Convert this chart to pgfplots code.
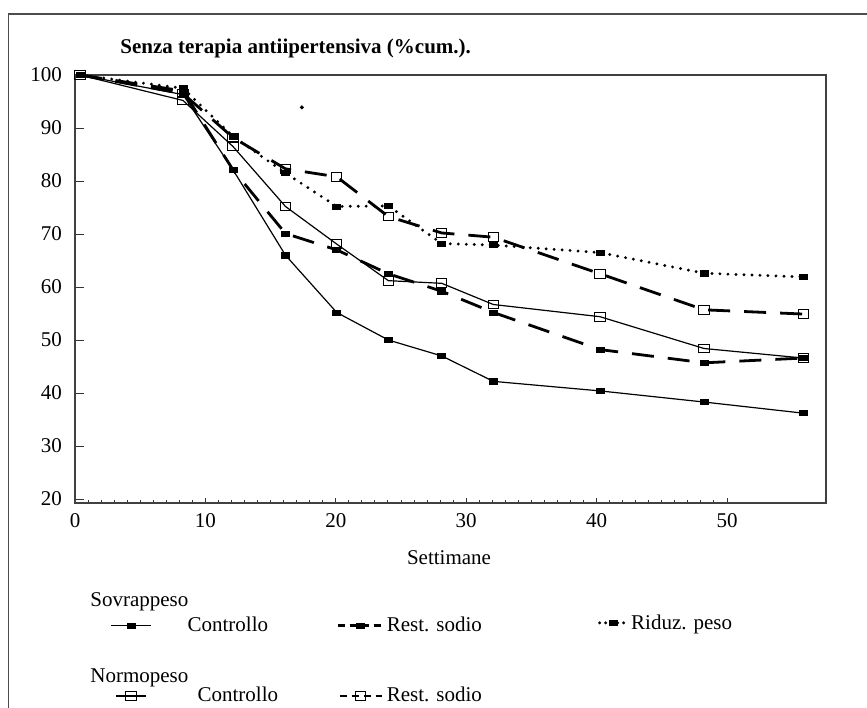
\documentclass[border=0pt]{standalone}
\usepackage{pgfplots}
\pgfplotsset{compat=1.18}
\usepackage{pgfplotstable}
\usepackage{fontspec}
\setmainfont{Liberation Serif}

% Legend samples of different lengths and dash rhythms
\pgfplotsset{
  leg solid/.style={legend image code/.code={\draw[##1, mark repeat=2, mark phase=2] plot coordinates {(0pt,0pt) (10pt,0pt) (20pt,0pt)};}},
  leg solid short/.style={legend image code/.code={\draw[##1, mark repeat=2, mark phase=2] plot coordinates {(2.5pt,0pt) (10pt,0pt) (17.5pt,0pt)};}},
  leg dash/.style={legend image code/.code={\draw[##1, dash pattern=on 3.5pt off 2.5pt, mark repeat=2, mark phase=2] plot coordinates {(0pt,0pt) (11.5pt,0pt) (23pt,0pt)};}},
  leg dash short/.style={legend image code/.code={\draw[##1, dash pattern=on 3.5pt off 2.5pt, mark repeat=2, mark phase=2] plot coordinates {(1pt,0pt) (11.5pt,0pt) (22pt,0pt)};}},
  leg dot/.style={legend image code/.code={\draw[##1, dash pattern=on 0pt off 3pt, mark repeat=2, mark phase=2] plot coordinates {(0pt,1.5pt) (7pt,1.5pt) (14pt,1.5pt)};}},
}

% Share of patients still without antihypertensive therapy (cumulative %)
\pgfplotstableread{
x y
0.38 100
8.28 96.3
12.12 82.1
16.14 66.0
20.07 55.2
24.03 50.0
28.12 47.0
32.08 42.2
40.26 40.4
48.24 38.3
55.85 36.2
}\sovCtrl
\pgfplotstableread{
x y
0.38 100
8.28 97.0
12.12 82.1
16.14 70.1
20.07 67.0
24.03 62.5
28.12 59.2
32.08 55.2
40.26 48.2
48.24 45.7
55.85 46.6
}\sovRest
\pgfplotstableread{
x y
0.38 100
8.28 97.5
12.12 88.4
16.14 81.5
20.07 75.2
24.03 75.3
28.12 68.2
32.08 67.9
40.26 66.5
48.24 62.6
55.85 61.9
}\sovRid
\pgfplotstableread{
x y
0.38 100
8.28 95.2
12.12 86.5
16.14 75.2
20.07 68.1
24.03 61.2
28.12 60.7
32.08 56.7
40.26 54.4
48.24 48.4
55.85 46.6
}\norCtrl
\pgfplotstableread{
x y
0.38 100
8.28 96.5
12.12 88.2
16.14 82.3
20.07 80.8
24.03 73.3
28.12 70.2
32.08 69.4
40.26 62.5
48.24 55.7
55.85 54.9
}\norRest

\begin{document}
\begin{tikzpicture}[font=\fontsize{10.5}{12.6}\selectfont,
  filled/.style={mark=square*, mark size=2pt, mark options={solid, line width=0.3pt, yscale=0.65}},
  open/.style={mark=square, mark size=2.6pt, mark options={solid, line width=0.5pt, yscale=0.85}},
  ctrl/.style={black, line width=0.6pt},
  rest/.style={black, line width=1.4pt, dash pattern=on 11pt off 7pt},
  rid/.style={black, line width=1.6pt, line cap=round, dash pattern=on 0pt off 4pt},
]
% outer frame
\draw[black!70, line width=0.8pt] (4.25pt,-360pt) -- (4.25pt,-7pt) -- (440pt,-7pt);

\begin{axis}[
  at={(37.5pt,-251.5pt)}, anchor=south west,
  scale only axis, width=375.5pt, height=214pt,
  xmin=0, xmax=57.59, ymin=19.25, ymax=100,
  xtick={0,10,...,50}, ytick={20,30,...,100},
  minor x tick num=9,
  tick pos=left, tick align=inside,
  major tick length=4.5pt, minor tick length=1.6pt,
  xtick style={/pgfplots/major tick length=2.4pt},
  axis line style={black!75, line width=0.7pt},
  every tick/.style={black!80, line width=0.5pt},
  /pgf/number format/assume math mode=true,
  tick label style={font=\fontsize{10.5}{12.6}\selectfont},
  yticklabel style={xshift=-3pt},
  xticklabel style={yshift=-1.5pt},
  xlabel={Settimane},
  xlabel style={at={(axis description cs:0.498,-0.128)}, anchor=center},
  clip=false,
  legend columns=3,
  legend cell align=left,
  legend style={draw=none, fill=none, inner sep=0pt,
    at={(axis description cs:0.0466,-0.255)}, anchor=north west,
    column sep=0pt, row sep=23pt, nodes={inner sep=1pt},
    /tikz/column 2/.style={column sep=28pt},
    /tikz/column 4/.style={column sep=57pt}},
]
\addplot[ctrl, filled, leg solid] table[x=x, y=y] {\sovCtrl};
\addlegendentry{\hspace{17pt}Controllo}
\addplot[rest, filled, leg dash] table[x=x, y=y] {\sovRest};
\addlegendentry{Rest. sodio}
\addplot[rid, filled, leg dot] table[x=x, y=y] {\sovRid};
\addlegendentry{\raisebox{2.5pt}{Riduz. peso}}
\addplot[ctrl, open, leg solid short] table[x=x, y=y] {\norCtrl};
\addlegendentry{\hspace{22pt}Controllo}
\addplot[rest, open, leg dash short] table[x=x, y=y] {\norRest};
\addlegendentry{Rest. sodio}
% isolated point
\addplot[only marks, mark=*, mark size=0.8pt, black, forget plot] coordinates {(17.4,93.9)};
\end{axis}

% title and legend group headings
\node[anchor=west, inner sep=0pt, font=\fontsize{10.5}{12.6}\selectfont\bfseries] at (60pt,-24pt)
  {Senza terapia antiipertensiva (\%cum.).};
\node[anchor=west, inner sep=0pt] at (45pt,-301pt) {Sovrappeso};
\node[anchor=west, inner sep=0pt] at (45pt,-339pt) {Normopeso};

\pgfresetboundingbox
\useasboundingbox (0pt,0pt) rectangle (433.5pt,-353.5pt);
\end{tikzpicture}
\end{document}
